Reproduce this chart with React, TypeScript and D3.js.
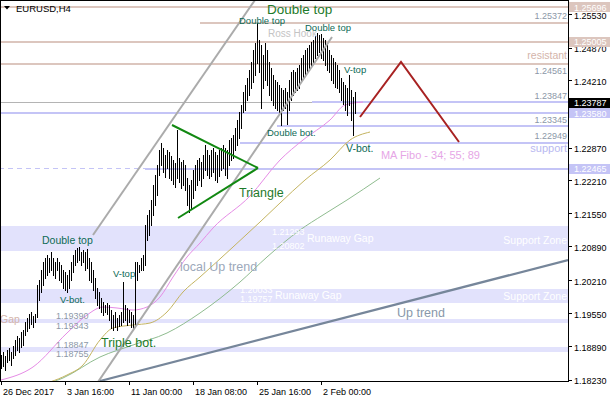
import React from 'react';
import * as d3 from 'd3';

// ---- data -------------------------------------------------------------
const highs = [
  1.1872, 1.1878, 1.1870, 1.1882, 1.1886, 1.1878, 1.1890, 1.1902, 1.1910, 1.1906,
  1.1918, 1.1922, 1.1938, 1.1946, 1.1954, 1.1958, 1.1950, 1.1954, 1.2012, 1.2022,
  1.2042, 1.2058, 1.2066, 1.2072, 1.2066, 1.2078, 1.2066, 1.2058, 1.2066, 1.2058,
  1.2052, 1.2042, 1.2038, 1.2032, 1.2042, 1.2058, 1.2072, 1.2082, 1.2086, 1.2088,
  1.2078, 1.2082, 1.2078, 1.2084, 1.2066, 1.2058, 1.2042, 1.2026, 1.2006, 1.1998,
  1.1986, 1.1978, 1.1972, 1.1976, 1.1972, 1.1962, 1.1952, 1.1958, 1.1946, 1.1952,
  1.1958, 1.2018, 1.1972, 1.1966, 1.1962, 1.1958, 1.1952, 1.2058, 1.2058, 1.2052,
  1.2066, 1.2072, 1.2132, 1.2152, 1.2162, 1.2182, 1.2212, 1.2232, 1.2252, 1.2282,
  1.2296, 1.2286, 1.2272, 1.2282, 1.2278, 1.2270, 1.2262, 1.2256, 1.2322, 1.2266,
  1.2258, 1.2262, 1.2252, 1.2226, 1.2212, 1.2222, 1.2242, 1.2252, 1.2262, 1.2266,
  1.2258, 1.2272, 1.2292, 1.2282, 1.2272, 1.2282, 1.2286, 1.2278, 1.2272, 1.2282,
  1.2286, 1.2292, 1.2286, 1.2282, 1.2302, 1.2306, 1.2312, 1.2326, 1.2342, 1.2358,
  1.2372, 1.2398, 1.2412, 1.2426, 1.2442, 1.2458, 1.2482, 1.2496, 1.2536, 1.2502,
  1.2492, 1.2472, 1.2496, 1.2482, 1.2458, 1.2446, 1.2432, 1.2422, 1.2418, 1.2412,
  1.2406, 1.2402, 1.2406, 1.2398, 1.2422, 1.2438, 1.2442, 1.2438, 1.2446, 1.2452,
  1.2466, 1.2472, 1.2482, 1.2486, 1.2492, 1.2498, 1.2502, 1.2510, 1.2516, 1.2512,
  1.2514, 1.2506, 1.2502, 1.2492, 1.2482, 1.2472, 1.2466, 1.2458, 1.2452, 1.2442,
  1.2426, 1.2418, 1.2412, 1.2406, 1.2432, 1.2402, 1.2388, 1.2398,
];
const lows = [
  1.1846, 1.1850, 1.1842, 1.1858, 1.1862, 1.1852, 1.1866, 1.1872, 1.1882, 1.1878,
  1.1888, 1.1892, 1.1912, 1.1920, 1.1926, 1.1934, 1.1928, 1.1938, 1.1948, 1.1982,
  1.1998, 1.2012, 1.2026, 1.2032, 1.2038, 1.2042, 1.2032, 1.2026, 1.2042, 1.2022,
  1.2018, 1.2006, 1.2002, 1.1998, 1.2006, 1.2022, 1.2038, 1.2052, 1.2058, 1.2062,
  1.2052, 1.2058, 1.2042, 1.2046, 1.2022, 1.2018, 1.2002, 1.1986, 1.1972, 1.1966,
  1.1958, 1.1952, 1.1958, 1.1954, 1.1942, 1.1926, 1.1922, 1.1928, 1.1922, 1.1930,
  1.1932, 1.1938, 1.1942, 1.1932, 1.1938, 1.1928, 1.1926, 1.1928, 1.2022, 1.2038,
  1.2042, 1.2042, 1.2052, 1.2102, 1.2112, 1.2132, 1.2152, 1.2172, 1.2192, 1.2232,
  1.2252, 1.2238, 1.2228, 1.2246, 1.2226, 1.2222, 1.2214, 1.2208, 1.2226, 1.2218,
  1.2206, 1.2212, 1.2202, 1.2172, 1.2158, 1.2166, 1.2186, 1.2202, 1.2212, 1.2222,
  1.2210, 1.2226, 1.2242, 1.2232, 1.2226, 1.2230, 1.2238, 1.2222, 1.2218, 1.2230,
  1.2242, 1.2246, 1.2232, 1.2226, 1.2252, 1.2262, 1.2266, 1.2282, 1.2292, 1.2306,
  1.2326, 1.2358, 1.2362, 1.2382, 1.2392, 1.2406, 1.2418, 1.2432, 1.2456, 1.2438,
  1.2366, 1.2406, 1.2422, 1.2412, 1.2392, 1.2382, 1.2372, 1.2366, 1.2362, 1.2358,
  1.2332, 1.2362, 1.2366, 1.2334, 1.2362, 1.2382, 1.2392, 1.2398, 1.2402, 1.2406,
  1.2422, 1.2426, 1.2432, 1.2438, 1.2446, 1.2452, 1.2458, 1.2466, 1.2472, 1.2478,
  1.2466, 1.2462, 1.2452, 1.2442, 1.2438, 1.2422, 1.2416, 1.2408, 1.2406, 1.2398,
  1.2382, 1.2374, 1.2362, 1.2352, 1.2372, 1.2342, 1.2312, 1.2356,
];

// moving averages: [bar index, price]
const ma34: [number, number][] = [
  [0, 1.1822], [16, 1.1848], [33, 1.1916], [43, 1.1952], [51, 1.1968], [58, 1.1966],
  [66, 1.1962], [73, 1.1968], [79.5, 1.1988], [86, 1.2028], [93, 1.2068], [99.5, 1.2096],
  [106, 1.2126], [124.5, 1.2190], [139.5, 1.2262], [151, 1.2302], [164.5, 1.2342],
  [172, 1.2372], [181, 1.2378],
];
const ma55: [number, number][] = [
  [24.5, 1.1818], [33, 1.1832], [41, 1.1852], [49.5, 1.1902], [56, 1.1926], [66, 1.1932],
  [74.5, 1.1936], [83, 1.1958], [91, 1.1998], [99.5, 1.2028], [116, 1.2088], [129.5, 1.2138],
  [139.5, 1.2176], [152, 1.2222], [164.5, 1.2262], [174.5, 1.2302], [184.5, 1.2318],
];
const ma89: [number, number][] = [
  [19.5, 1.1810], [31, 1.1826], [49.5, 1.1868], [66, 1.1892], [83, 1.1916], [99.5, 1.1956],
  [119.5, 1.2018], [133, 1.2068], [149.5, 1.2122], [161, 1.2152], [173, 1.2182], [189.5, 1.2226],
];

const timeTickBars = [0, 32, 64, 96, 128, 160];
const timeTickLabels = ['26 Dec 2017', '3 Jan 16:00', '11 Jan 00:00', '18 Jan 08:00', '25 Jan 16:00', '2 Feb 00:00'];

const priceTicks = [1.2553, 1.2487, 1.2421, 1.2287, 1.2221, 1.2155, 1.2089, 1.2021, 1.1955, 1.1889, 1.1823];

// price boxes on the axis: [price, kind]
const priceBoxes: [number, string][] = [
  [1.25696, 'rosy'], [1.25005, 'rosy'], [1.23787, 'black'], [1.2358, 'lav'], [1.22465, 'lav'],
];

// horizontal levels: [price, start bar (null = whole chart), kind]
const levels: [number, number | null, string][] = [
  [1.25696, null, 'rosy'], [1.25372, 99.5, 'rosy'], [1.25005, null, 'rosy'], [1.24561, null, 'rosy'],
  [1.23787, null, 'gray'], [1.2379, 155.5, 'lav'], [1.2358, null, 'lav'], [1.2332, 138, 'lav'],
  [1.2298, 119.5, 'lav'], [1.22465, 72, 'lav'],
];
const dashedLevels: [number, number, number][] = [[1.22465, -1, 72]];

// zones: [low price, high price]
const zones: [number, number][] = [
  [1.20802, 1.21293], [1.19757, 1.20033], [1.19355, 1.1944], [1.18786, 1.1887],
];

// trend lines: [bar1, price1, bar2, price2, kind]
const trendLines: [number, number, number, number, string][] = [
  [46, 1.2112, 127, 1.2582, 'channel'],
  [48.5, 1.1818, 165.5, 1.2508, 'channel'],
  [49.5, 1.182, 283.5, 1.2062, 'uptrend'],
  [85.5, 1.2332, 128.5, 1.2246, 'triangle'],
  [88.5, 1.2146, 128.5, 1.2246, 'triangle'],
];
const zigzag: [number, number][] = [[179.5, 1.2348], [200, 1.2458], [229, 1.2298]];

// annotations: [text, bar, price, kind]
const notes: [string, number, number, string][] = [
  ['Double top', 133, 1.2555, 'big'],
  ['Double top', 119, 1.2535, 'teal'],
  ['Ross Hook', 133.5, 1.2508, 'hook'],
  ['Double top', 152, 1.252, 'teal'],
  ['V-top', 171.5, 1.2436, 'teal'],
  ['Double bot.', 133, 1.231, 'tealS'],
  ['V-bot.', 172.5, 1.2278, 'tealL'],
  ['Triangle', 119, 1.2188, 'green'],
  ['Double top', 20.5, 1.2094, 'tealL'],
  ['V-top', 56, 1.2028, 'teal'],
  ['V-bot.', 29.5, 1.1976, 'teal'],
  ['Triple bot.', 50, 1.1888, 'green'],
  ['local Up trend', 89.5, 1.204, 'local'],
  ['Up trend', 198, 1.1948, 'up'],
  ['Gap', -0.5, 1.1936, 'rosyText'],
  ['1.19390', 27.5, 1.1944, 'small'],
  ['1.19343', 27.5, 1.1924, 'small'],
  ['1.18847', 27.5, 1.1886, 'small'],
  ['1.18755', 27.5, 1.1868, 'small'],
  ['1.21293', 135.5, 1.2112, 'whiteSmall'],
  ['1.20802', 135.5, 1.2084, 'whiteSmall'],
  ['Runaway Gap', 153, 1.2098, 'white'],
  ['1.20033', 119.5, 1.1996, 'whiteSmall'],
  ['1.19757', 119.5, 1.1978, 'whiteSmall'],
  ['Runaway Gap', 137, 1.1984, 'white'],
];
// right-aligned annotations: [text, price, kind]
const rightNotes: [string, number, string][] = [
  ['1.25372', 1.2544, 'small'],
  ['resistant', 1.2464, 'rosyText'],
  ['1.24561', 1.2434, 'small'],
  ['1.23847', 1.2384, 'small'],
  ['1.23345', 1.2336, 'small'],
  ['1.22949', 1.2304, 'small'],
  ['support', 1.2278, 'lavText'],
  ['Support Zone', 1.2094, 'white'],
  ['Support Zone', 1.1982, 'white'],
  ['MA Fibo - 34; 55; 89', 1.2264, 'pink'],
];
const rightNoteBars: Record<string, number> = { pink: 239.5 };

// ---- styles -----------------------------------------------------------
const FONT = "'Liberation Sans', Arial, sans-serif";
const ROSY = '#dcc6be';
const LAV = '#c4c4f6';
const ZONE = '#e2e2fc';
const noteStyle: Record<string, { size: number; color: string }> = {
  big: { size: 13.5, color: '#1d7a2a' },
  green: { size: 12.5, color: '#1d7a2a' },
  teal: { size: 9.5, color: '#0d6a55' },
  tealS: { size: 9.5, color: '#0d6a55' },
  tealL: { size: 10.5, color: '#0d6a55' },
  hook: { size: 10, color: '#c4c4c4' },
  local: { size: 12.5, color: '#9ca8ba' },
  up: { size: 12.5, color: '#8898aa' },
  rosyText: { size: 10.5, color: '#d4b4aa' },
  lavText: { size: 11, color: '#b8b8f0' },
  small: { size: 9, color: '#8c98a8' },
  whiteSmall: { size: 9, color: '#ffffff' },
  white: { size: 10.5, color: '#ffffff' },
  pink: { size: 11, color: '#e6a6e6' },
};
const levelColor: Record<string, string> = { rosy: ROSY, lav: LAV, gray: '#b4b4b4' };
const boxColor: Record<string, string> = { rosy: ROSY, lav: LAV, black: '#000' };
const trendColor: Record<string, string> = { channel: '#ababab', uptrend: '#76869a', triangle: '#118811' };

const PR = 568; // plot right
const PB = 381; // plot bottom

export default function App() {
  const x = d3.scaleLinear().domain([0, 283.5]).range([1, PR]);
  const y = d3.scaleLinear().domain([1.1823, 1.2582]).range([379.5, 0]);
  const cy = (p: number) => Math.round(y(p)) + 0.5;

  const maLine = d3
    .line<[number, number]>()
    .x((d) => x(d[0]))
    .y((d) => y(d[1]))
    .curve(d3.curveMonotoneX);
  const zz = d3.line<[number, number]>().x((d) => x(d[0])).y((d) => y(d[1]));

  return (
    <svg
      width={610}
      height={400}
      style={{ position: 'absolute', left: 0, top: 0, background: '#fff' }}
      fontFamily={FONT}
    >
      <defs>
        <clipPath id="plot">
          <rect x={0} y={0} width={PR} height={PB} />
        </clipPath>
      </defs>
      <rect x={0} y={0} width={610} height={400} fill="#fff" />
      <g clipPath="url(#plot)">
        {zones.map(([lo, hi], k) => (
          <rect key={k} x={0} width={PR} y={Math.round(y(hi))} height={Math.round(y(lo)) - Math.round(y(hi))} fill={ZONE} />
        ))}
        {levels.map(([p, from, kind], k) => (
          <line
            key={k}
            x1={from == null ? 0 : x(from)}
            x2={PR}
            y1={cy(p)}
            y2={cy(p)}
            stroke={levelColor[kind]}
            strokeWidth={kind === 'gray' ? 1 : 2}
            shapeRendering="crispEdges"
          />
        ))}
        {dashedLevels.map(([p, a, b], k) => (
          <line key={k} x1={x(a)} x2={x(b)} y1={cy(p)} y2={cy(p)} stroke={LAV} strokeDasharray="5,4" shapeRendering="crispEdges" />
        ))}
        <path d={maLine(ma89) || ''} fill="none" stroke="#8fbc8f" strokeWidth={1} />
        <path d={maLine(ma55) || ''} fill="none" stroke="#c4b460" strokeWidth={1} />
        <path d={maLine(ma34) || ''} fill="none" stroke="#e68ce6" strokeWidth={1} />
        {highs.map((h, i) => (
          <line
            key={i}
            x1={Math.round(x(i)) + 0.5}
            x2={Math.round(x(i)) + 0.5}
            y1={Math.round(y(h))}
            y2={Math.round(y(lows[i])) + 1}
            stroke="#000"
            strokeWidth={1}
            shapeRendering="crispEdges"
          />
        ))}
        {trendLines.map(([b1, p1, b2, p2, kind], k) => (
          <line
            key={k}
            x1={x(b1)}
            y1={y(p1)}
            x2={x(b2)}
            y2={y(p2)}
            stroke={trendColor[kind]}
            strokeWidth={kind === 'uptrend' ? 2.2 : 2}
          />
        ))}
        <path d={zz(zigzag) || ''} fill="none" stroke="#a82222" strokeWidth={2} />
        {notes.map(([t, b, p, kind], k) => (
          <text key={k} x={x(b)} y={y(p)} fontSize={noteStyle[kind].size} fill={noteStyle[kind].color}>
            {t}
          </text>
        ))}
        {rightNotes.map(([t, p, kind], k) => (
          <text
            key={k}
            x={rightNoteBars[kind] != null ? x(rightNoteBars[kind]) : PR - 1}
            y={y(p)}
            textAnchor="end"
            fontSize={noteStyle[kind].size}
            fill={noteStyle[kind].color}
          >
            {t}
          </text>
        ))}
      </g>
      {/* frame */}
      <rect x={0.5} y={0.5} width={PR} height={PB} fill="none" stroke="#000" shapeRendering="crispEdges" />
      {/* header */}
      <path d="M4,6 L10,6 L7,9.5 Z" fill="#000" />
      <text x={16} y={12} fontSize={9.5} fill="#000">EURUSD,H4</text>
      {/* price axis */}
      {priceTicks.map((p, k) => (
        <g key={k}>
          <line x1={PR} x2={PR + 4} y1={cy(p)} y2={cy(p)} stroke="#000" shapeRendering="crispEdges" />
          <text x={574} y={y(p) + 4} fontSize={9} fill="#000">
            {p.toFixed(5)}
          </text>
        </g>
      ))}
      {priceBoxes.map(([p, kind], k) => (
        <g key={k}>
          <rect x={569} y={Math.round(y(p)) - 4} width={41} height={10} fill={boxColor[kind]} />
          <text x={574} y={y(p) + 4.5} fontSize={9} fill="#fff">
            {p.toFixed(5)}
          </text>
        </g>
      ))}
      {/* time axis */}
      {timeTickBars.map((b, k) => (
        <g key={k}>
          <line x1={Math.round(x(b)) + 0.5} x2={Math.round(x(b)) + 0.5} y1={PB} y2={PB + 4} stroke="#000" shapeRendering="crispEdges" />
          <text x={x(b) + 2} y={395} fontSize={9} fill="#000">
            {timeTickLabels[k]}
          </text>
        </g>
      ))}
    </svg>
  );
}
